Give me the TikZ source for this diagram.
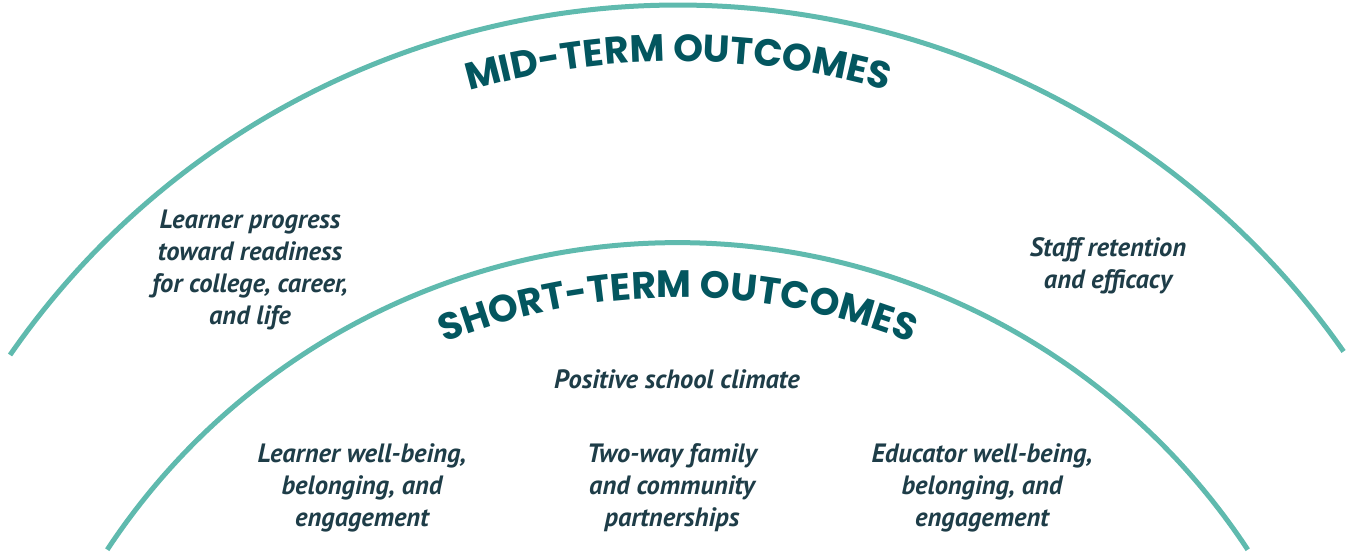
\documentclass[tikz,border=0pt]{standalone}
\usepackage{fontspec}
\usetikzlibrary{decorations.text}
\newfontfamily\titlefont{Poppins}
\newfontfamily\bodyfont{PT Sans}
\definecolor{arcteal}{HTML}{5FBAAE}
\definecolor{titlecol}{HTML}{03565F}
\definecolor{bodycol}{HTML}{1E3D48}
\tikzset{
  arcline/.style={draw=arcteal, line width=5pt},
  outcome/.style={text=bodycol, align=center, font=\bodyfont\bfseries\itshape\fontsize{26.5}{32}\selectfont, inner sep=0pt}
}
\begin{document}
\begin{tikzpicture}[x=1pt,y=1pt]
\useasboundingbox (0,0) rectangle (1355,554);
\coordinate (cO) at (678,-263.5);
\coordinate (cI) at (677.5,-371.7);
% arcs
\draw[arcline] (cO) ++(145.3:812.5) arc[start angle=145.3, end angle=35, radius=812.5];
\draw[arcline] (cI) ++(146.6:683.1) arc[start angle=146.6, end angle=33.4, radius=683.1];
% curved titles
\path[decorate, decoration={text along path, text align=center, text color=titlecol,
  text={|\titlefont\bfseries\fontsize{38}{38}\selectfont|MID-TERM OUTCOMES}}]
  (cO) ++(120:756) arc[start angle=120, end angle=60, radius=756];
\path[decorate, decoration={text along path, text align=center, text color=titlecol,
  text={|\titlefont\bfseries\fontsize{38}{38}\selectfont|SHORT-TERM OUTCOMES}}]
  (cI) ++(125:628) arc[start angle=125, end angle=55, radius=628];
% outcomes
\node[outcome] (lp) at (250,284) {Learner progress\\toward readiness\\for college, career,\\and life};
\node[outcome] (sr) at (1108,288) {Staff retention\\and efficacy};
\node[outcome] (psc) at (677,175) {Positive school climate};
\node[outcome] (lw) at (362,66) {Learner well-being,\\belonging, and\\engagement};
\node[outcome] (tw) at (672,66) {Two-way family\\and community\\partnerships};
\node[outcome] (ew) at (982,66) {Educator well-being,\\belonging, and\\engagement};
\end{tikzpicture}
\end{document}
